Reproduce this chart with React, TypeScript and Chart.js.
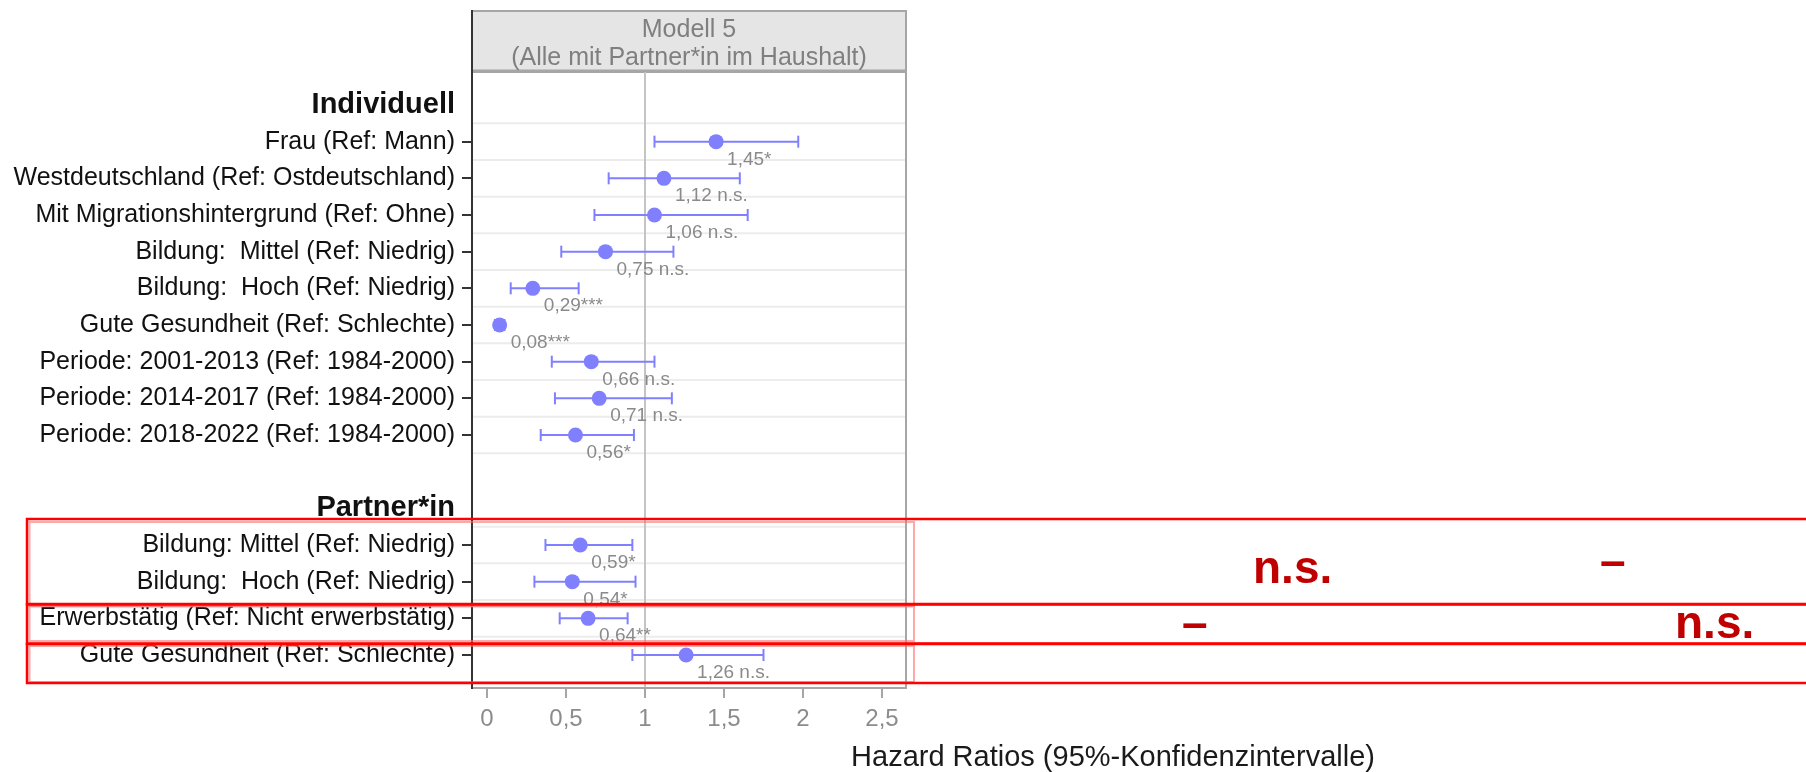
import React, { useEffect, useRef } from 'react';
import { Chart, registerables } from 'chart.js';

Chart.register(...registerables);

// ---------- data ----------
const categories = [
  'Individuell',
  'Frau (Ref: Mann)',
  'Westdeutschland (Ref: Ostdeutschland)',
  'Mit Migrationshintergrund (Ref: Ohne)',
  'Bildung:  Mittel (Ref: Niedrig)',
  'Bildung:  Hoch (Ref: Niedrig)',
  'Gute Gesundheit (Ref: Schlechte)',
  'Periode: 2001-2013 (Ref: 1984-2000)',
  'Periode: 2014-2017 (Ref: 1984-2000)',
  'Periode: 2018-2022 (Ref: 1984-2000)',
  '',
  'Partner*in',
  'Bildung: Mittel (Ref: Niedrig)',
  'Bildung:  Hoch (Ref: Niedrig)',
  'Erwerbstätig (Ref: Nicht erwerbstätig)',
  'Gute Gesundheit (Ref: Schlechte)',
];
const headerRows = ['Individuell', 'Partner*in'];
const hazardRatios = [null, 1.45, 1.12, 1.06, 0.75, 0.29, 0.08, 0.66, 0.71, 0.56, null, null, 0.59, 0.54, 0.64, 1.26];
const ciLower = [null, 1.06, 0.77, 0.68, 0.47, 0.15, 0.05, 0.41, 0.43, 0.34, null, null, 0.37, 0.30, 0.46, 0.92];
const ciUpper = [null, 1.97, 1.60, 1.65, 1.18, 0.58, 0.11, 1.06, 1.17, 0.93, null, null, 0.92, 0.94, 0.89, 1.75];
const significance = ['', '*', 'n.s.', 'n.s.', 'n.s.', '***', '***', 'n.s.', 'n.s.', '*', '', '', '*', '*', '**', 'n.s.'];
const xTickValues = [0, 0.5, 1, 1.5, 2, 2.5];
const stripTitle = ['Modell 5', '(Alle mit Partner*in im Haushalt)'];
const xAxisTitle = 'Hazard Ratios (95%-Konfidenzintervalle)';
const overlayTexts = ['n.s.', '–', '–', 'n.s.'];

// ---------- styles ----------
const FONT = '"Liberation Sans", Arial, Helvetica, sans-serif';
const POINT = '#8080ff';
const GREY_TEXT = '#8a8a8a';

const isItem = (i: number) => i >= 0 && i < categories.length && hazardRatios[i] != null;
const fmt = (v: number) => v.toFixed(2).replace('.', ',');
const valueLabel = (i: number) =>
  fmt(hazardRatios[i] as number) + (significance[i] === 'n.s.' ? ' n.s.' : significance[i]);

const decorPlugin = {
  id: 'decor',
  beforeDraw(chart: any) {
    const { ctx, chartArea: a, scales } = chart;
    const y = scales.y;
    ctx.save();
    ctx.fillStyle = '#ffffff';
    ctx.fillRect(0, 0, chart.width, chart.height);

    // strip header
    const stripTop = 10;
    ctx.fillStyle = '#e5e5e5';
    ctx.fillRect(a.left, stripTop, a.right - a.left, a.top - stripTop);
    ctx.strokeStyle = '#a6a6a6';
    ctx.lineWidth = 2;
    ctx.strokeRect(a.left, stripTop + 1, a.right - a.left, a.top - stripTop - 1);
    ctx.lineWidth = 3;
    ctx.beginPath();
    ctx.moveTo(a.left, a.top - 1);
    ctx.lineTo(a.right, a.top - 1);
    ctx.stroke();
    ctx.fillStyle = '#7f7f7f';
    ctx.font = `25px ${FONT}`;
    ctx.textAlign = 'center';
    ctx.textBaseline = 'alphabetic';
    const cx = (a.left + a.right) / 2;
    ctx.fillText(stripTitle[0], cx, 37);
    ctx.fillText(stripTitle[1], cx, 65);

    // horizontal grid lines between rows
    ctx.strokeStyle = '#ececec';
    ctx.lineWidth = 2;
    for (let i = 0; i < categories.length - 1; i++) {
      if (isItem(i) || isItem(i + 1)) {
        const py = y.getPixelForValue(i + 0.5);
        ctx.beginPath();
        ctx.moveTo(a.left, py);
        ctx.lineTo(a.right, py);
        ctx.stroke();
      }
    }
    // panel right border
    ctx.strokeStyle = '#a6a6a6';
    ctx.lineWidth = 2;
    ctx.beginPath();
    ctx.moveTo(a.right, stripTop);
    ctx.lineTo(a.right, a.bottom);
    ctx.stroke();
    // left dark line through strip
    ctx.strokeStyle = '#333333';
    ctx.beginPath();
    ctx.moveTo(a.left, stripTop);
    ctx.lineTo(a.left, a.top);
    ctx.stroke();
    ctx.restore();
  },
  afterDatasetsDraw(chart: any) {
    const { ctx, scales } = chart;
    const x = scales.x;
    const y = scales.y;
    ctx.save();
    ctx.fillStyle = GREY_TEXT;
    ctx.font = `19px ${FONT}`;
    ctx.textAlign = 'left';
    ctx.textBaseline = 'alphabetic';
    categories.forEach((_, i) => {
      if (!isItem(i)) return;
      const px = x.getPixelForValue(hazardRatios[i]);
      const py = y.getPixelForValue(i);
      ctx.fillText(valueLabel(i), px + 11, py + 23);
    });
    ctx.restore();
  },
  afterDraw(chart: any) {
    const { ctx, chartArea: a } = chart;
    ctx.save();
    // x axis title (placed off-centre like in the reference)
    ctx.fillStyle = '#1a1a1a';
    ctx.font = `29px ${FONT}`;
    ctx.textAlign = 'center';
    ctx.textBaseline = 'alphabetic';
    ctx.fillText(xAxisTitle, 1113, 766);

    // red highlight boxes
    const boxes = [
      [519, 604],
      [604.5, 643.5],
      [644, 683],
    ];
    const inner = [
      [522, 606],
      [606.5, 641],
      [646, 682],
    ];
    ctx.strokeStyle = 'rgba(255,110,110,0.6)';
    ctx.lineWidth = 2;
    inner.forEach(([t, b]) => ctx.strokeRect(29.5, t, a.right + 8 - 29.5, b - t));
    ctx.strokeStyle = '#ff0000';
    ctx.lineWidth = 2.5;
    boxes.forEach(([t, b]) => ctx.strokeRect(27, t, 1900, b - t));

    // overlay annotations
    ctx.fillStyle = '#c00000';
    ctx.font = `bold 46px ${FONT}`;
    ctx.textAlign = 'left';
    ctx.fillText(overlayTexts[0], 1253, 583);
    ctx.fillText(overlayTexts[1], 1600, 576);
    ctx.fillText(overlayTexts[2], 1182, 638);
    ctx.fillText(overlayTexts[3], 1675, 638);
    ctx.restore();
  },
};

export default function App() {
  const ref = useRef<HTMLCanvasElement | null>(null);

  useEffect(() => {
    if (!ref.current) return;
    const pointData = categories
      .map((_, i) => (isItem(i) ? { x: hazardRatios[i] as number, y: i } : null))
      .filter(Boolean) as { x: number; y: number }[];
    const errorSets = categories
      .map((_, i) =>
        isItem(i)
          ? {
              type: 'scatter' as const,
              data: [
                { x: ciLower[i] as number, y: i },
                { x: ciUpper[i] as number, y: i },
              ],
              showLine: true,
              borderColor: POINT,
              borderWidth: 2,
              pointStyle: 'line' as const,
              rotation: 90,
              pointRadius: 6,
              pointHoverRadius: 6,
              pointBorderColor: POINT,
              pointBorderWidth: 2,
              pointBackgroundColor: POINT,
            }
          : null
      )
      .filter(Boolean) as any[];

    const chart = new Chart(ref.current, {
      type: 'scatter',
      data: {
        datasets: [
          {
            data: pointData,
            pointRadius: 7.5,
            pointHoverRadius: 7.5,
            backgroundColor: POINT,
            borderWidth: 0,
            pointBorderWidth: 0,
          },
          ...errorSets,
        ],
      },
      options: {
        animation: false,
        responsive: false,
        events: [],
        layout: { padding: { top: 72, right: 900, bottom: 0, left: 0 } },
        plugins: { legend: { display: false }, tooltip: { enabled: false } },
        scales: {
          x: {
            type: 'linear',
            min: -0.095,
            max: 2.652,
            afterBuildTicks: (scale: any) => {
              scale.ticks = xTickValues.map((v) => ({ value: v }));
            },
            afterFit: (scale: any) => {
              scale.height = 84;
            },
            ticks: {
              autoSkip: false,
              color: '#8c8c8c',
              font: { family: FONT, size: 24 },
              padding: 7,
              callback: (v: any) => String(v).replace('.', ','),
            },
            grid: {
              drawOnChartArea: true,
              color: (ctx: any) => (ctx.tick && ctx.tick.value === 1 ? '#c4c4c4' : 'rgba(0,0,0,0)'),
              tickColor: '#a6a6a6',
              tickLength: 10,
              lineWidth: 2,
            },
            border: { display: true, color: '#a6a6a6', width: 2 },
          },
          y: {
            type: 'linear',
            reverse: true,
            min: -0.9,
            max: 15.9,
            afterBuildTicks: (scale: any) => {
              scale.ticks = categories.map((_, i) => ({ value: i }));
            },
            afterFit: (scale: any) => {
              scale.width = 472;
            },
            ticks: {
              autoSkip: false,
              color: '#111111',
              padding: 7,
              font: (ctx: any) =>
                headerRows.includes(categories[ctx.index])
                  ? { family: FONT, size: 29, weight: 'bold' }
                  : { family: FONT, size: 25 },
              callback: (v: any) => categories[Math.round(v)] ?? '',
            },
            grid: {
              drawOnChartArea: false,
              color: 'rgba(0,0,0,0)',
              tickColor: (ctx: any) => (isItem(ctx.index) ? '#333333' : 'rgba(0,0,0,0)'),
              tickLength: 10,
              lineWidth: 2,
            },
            border: { display: true, color: '#333333', width: 2 },
          },
        },
      },
      plugins: [decorPlugin],
    } as any);

    return () => chart.destroy();
  }, []);

  return (
    <div style={{ position: 'fixed', left: 0, top: 0, width: 1806, height: 772, background: '#fff' }}>
      <canvas ref={ref} width={1806} height={772} style={{ display: 'block', width: 1806, height: 772 }} />
    </div>
  );
}
